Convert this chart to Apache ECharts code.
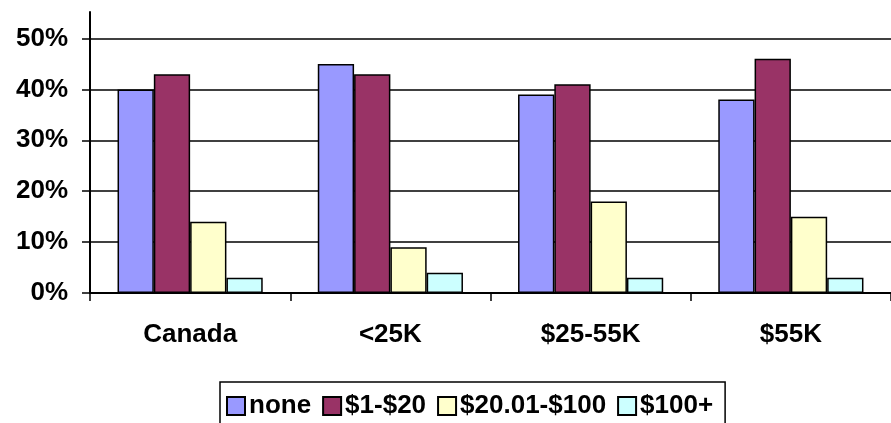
<!DOCTYPE html>
<html>
<head>
<meta charset="utf-8">
<script src="https://cdn.jsdelivr.net/npm/echarts@6/dist/echarts.min.js"></script>
<style>
  html, body { margin: 0; padding: 0; background: #ffffff; }
  #chart { width: 891px; height: 423px; }
</style>
</head>
<body>
<div id="chart"></div>
<script>
// Income groups along the category axis
const categories = ['Canada', '<25K', '$25-55K', '$55K'];

// Share of respondents (%) in each spending band
const seriesNames = ['none', '$1-$20', '$20.01-$100', '$100+'];
const noneValues   = [40, 45, 39, 38];
const lowValues    = [43, 43, 41, 46];
const midValues    = [14, 9, 18, 15];
const highValues   = [3, 4, 3, 3];
const seriesValues = [noneValues, lowValues, midValues, highValues];

// Percent axis ticks
const yTicks = [0, 10, 20, 30, 40, 50];

const colors = ['#9999FF', '#993366', '#FFFFCC', '#CCFFFF'];
const fontFamily = '"Liberation Sans", Arial, sans-serif';

const chart = echarts.init(document.getElementById('chart'), null, { renderer: 'canvas' });

const option = {
  animation: false,
  backgroundColor: '#ffffff',
  grid: [
    // frame whose vertical axis rises a little above the top gridline
    { left: 90, right: -5, top: 12, bottom: 130 },
    // plotting area
    { left: 90, right: -5, top: 38.5, bottom: 130 }
  ],
  legend: {
    data: seriesNames,
    left: 220,
    top: 382,
    orient: 'horizontal',
    itemWidth: 18,
    itemHeight: 18,
    itemGap: 11,
    padding: [11, 12, 40, 6],
    borderColor: '#000000',
    borderWidth: 1.5,
    icon: 'rect',
    textStyle: {
      fontFamily: fontFamily,
      fontWeight: 'bold',
      fontSize: 26,
      color: '#000000',
      padding: [0, 0, 0, -1]
    }
  },
  xAxis: [
    {
      gridIndex: 0,
      type: 'category',
      data: categories,
      show: false
    },
    {
      gridIndex: 1,
      type: 'category',
      data: categories,
      axisLine: { show: true, lineStyle: { color: '#000000', width: 2 } },
      axisTick: { show: true, alignWithLabel: false, length: 8, lineStyle: { color: '#000000', width: 1.5 } },
      axisLabel: {
        margin: 29,
        fontFamily: fontFamily,
        fontWeight: 'bold',
        fontSize: 26,
        color: '#000000'
      },
      splitLine: { show: false }
    }
  ],
  yAxis: [
    {
      gridIndex: 0,
      type: 'value',
      min: 0,
      max: 55,
      axisLine: { show: true, lineStyle: { color: '#000000', width: 2 } },
      axisTick: { show: false },
      axisLabel: { show: false },
      splitLine: { show: false }
    },
    {
      gridIndex: 1,
      type: 'value',
      min: yTicks[0],
      max: yTicks[yTicks.length - 1],
      interval: 10,
      axisLine: { show: true, lineStyle: { color: '#000000', width: 2 } },
      axisTick: { show: true, inside: false, length: 8, lineStyle: { color: '#000000', width: 1.5 } },
      axisLabel: {
        margin: 22,
        formatter: '{value}%',
        fontFamily: fontFamily,
        fontWeight: 'bold',
        fontSize: 26,
        color: '#000000'
      },
      splitLine: { show: true, lineStyle: { color: '#000000', width: 1.5 } }
    }
  ],
  series: seriesNames.map((name, i) => ({
    name: name,
    type: 'bar',
    xAxisIndex: 1,
    yAxisIndex: 1,
    data: seriesValues[i],
    barGap: '0%',
    barCategoryGap: '27.5%',
    itemStyle: {
      color: colors[i],
      borderColor: '#000000',
      borderWidth: 1.5
    }
  }))
};

chart.setOption(option);
</script>
</body>
</html>
